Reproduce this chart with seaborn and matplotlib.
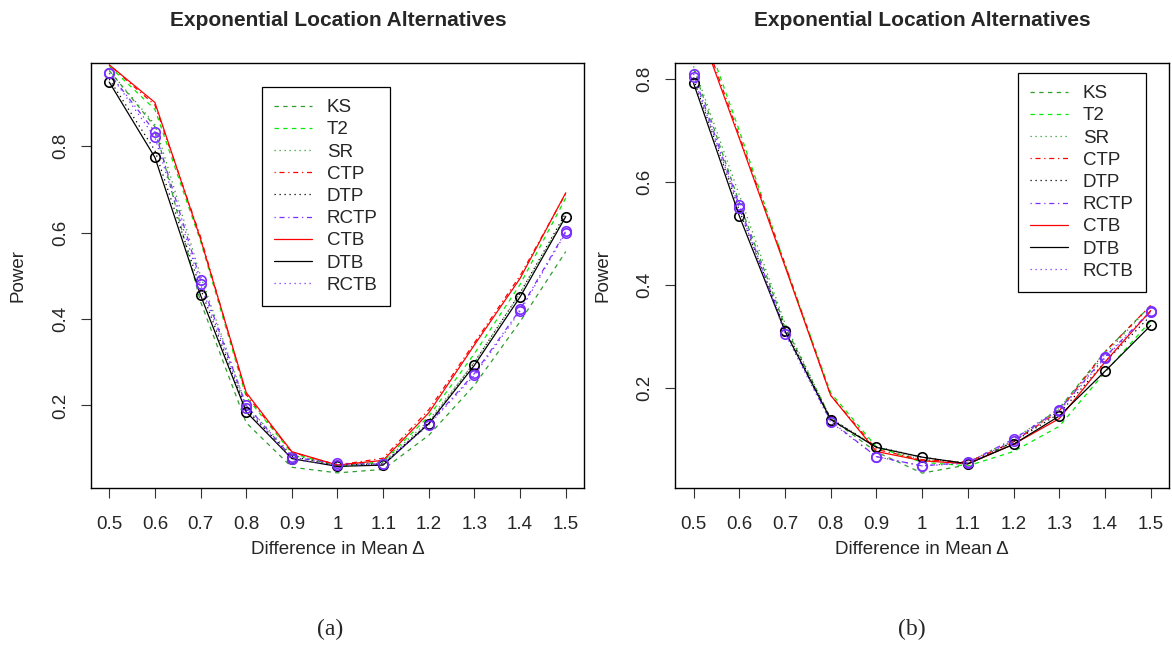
import numpy as np
import pandas as pd
import matplotlib
matplotlib.use("Agg")
import matplotlib.pyplot as plt
import seaborn as sns
from matplotlib.lines import Line2D

delta = [0.5, 0.6, 0.7, 0.8, 0.9, 1.0, 1.1, 1.2, 1.3, 1.4, 1.5]
xtick_labels = ["0.5", "0.6", "0.7", "0.8", "0.9", "1", "1.1", "1.2", "1.3", "1.4", "1.5"]
methods = ["KS", "T2", "SR", "CTP", "DTP", "RCTP", "CTB", "DTB", "RCTB"]

# Panel (a)
a_KS   = [0.975, 0.845, 0.440, 0.160, 0.057, 0.044, 0.052, 0.131, 0.247, 0.394, 0.556]
a_T2   = [0.985, 0.885, 0.580, 0.220, 0.090, 0.058, 0.070, 0.175, 0.320, 0.480, 0.680]
a_SR   = [0.975, 0.850, 0.500, 0.200, 0.085, 0.062, 0.068, 0.165, 0.300, 0.460, 0.640]
a_CTP  = [0.988, 0.895, 0.590, 0.225, 0.092, 0.062, 0.078, 0.190, 0.345, 0.500, 0.690]
a_DTP  = [0.955, 0.790, 0.470, 0.190, 0.082, 0.062, 0.065, 0.160, 0.300, 0.460, 0.645]
a_RCTP = [0.969, 0.833, 0.490, 0.200, 0.080, 0.066, 0.064, 0.157, 0.274, 0.422, 0.603]
a_CTB  = [0.988, 0.901, 0.585, 0.230, 0.093, 0.062, 0.073, 0.183, 0.340, 0.494, 0.692]
a_DTB  = [0.948, 0.774, 0.455, 0.185, 0.077, 0.059, 0.062, 0.158, 0.293, 0.451, 0.637]
a_RCTB = [0.969, 0.820, 0.480, 0.195, 0.075, 0.062, 0.064, 0.155, 0.270, 0.418, 0.600]

# Panel (b)
b_KS   = [0.820, 0.560, 0.320, 0.140, 0.075, 0.034, 0.050, 0.095, 0.160, 0.270, 0.360]
b_T2   = [0.950, 0.700, 0.440, 0.190, 0.085, 0.055, 0.048, 0.076, 0.125, 0.230, 0.330]
b_SR   = [0.825, 0.575, 0.325, 0.140, 0.085, 0.060, 0.055, 0.100, 0.160, 0.265, 0.360]
b_CTP  = [0.940, 0.690, 0.440, 0.185, 0.080, 0.060, 0.055, 0.095, 0.155, 0.270, 0.360]
b_DTP  = [0.800, 0.545, 0.315, 0.140, 0.085, 0.065, 0.052, 0.095, 0.150, 0.250, 0.340]
b_RCTP = [0.810, 0.555, 0.310, 0.135, 0.066, 0.048, 0.055, 0.100, 0.157, 0.260, 0.349]
b_CTB  = [0.930, 0.685, 0.436, 0.185, 0.076, 0.058, 0.052, 0.090, 0.140, 0.250, 0.350]
b_DTB  = [0.792, 0.534, 0.310, 0.138, 0.084, 0.065, 0.052, 0.090, 0.145, 0.232, 0.321]
b_RCTB = [0.804, 0.550, 0.305, 0.133, 0.066, 0.048, 0.053, 0.097, 0.155, 0.258, 0.347]

panel_a = [a_KS, a_T2, a_SR, a_CTP, a_DTP, a_RCTP, a_CTB, a_DTB, a_RCTB]
panel_b = [b_KS, b_T2, b_SR, b_CTP, b_DTP, b_RCTP, b_CTB, b_DTB, b_RCTB]

PURPLE = "#7B2FFF"
DASH = (0, (3.5, 3.5))
DOT = (0, (1, 3))
DOTDASH = (0, (1, 3, 4, 3))
styles = {
    "KS":   dict(color="#2E9E2E", ls=DASH, marker=None),
    "T2":   dict(color="#00EE00", ls=DASH, marker=None),
    "SR":   dict(color="#2E9E2E", ls=DOT, marker=None),
    "CTP":  dict(color="#FF0000", ls=DOTDASH, marker=None),
    "DTP":  dict(color="#000000", ls=DOT, marker=None),
    "RCTP": dict(color=PURPLE, ls=DOTDASH, marker="o"),
    "CTB":  dict(color="#FF0000", ls="-", marker=None),
    "DTB":  dict(color="#000000", ls="-", marker="o"),
    "RCTB": dict(color=PURPLE, ls=DOT, marker="o"),
}

sns.set_style("white")
plt.rcParams["font.family"] = ["Liberation Sans", "DejaVu Sans"]

W, H = 1172, 649
fig = plt.figure(figsize=(W / 100, H / 100), dpi=100)

def fx(px):
    return px / W

def fy(py):
    return 1 - py / H

FS = 13.5
top_px, bot_px = 62.7, 488
axA = fig.add_axes([fx(91), fy(bot_px), fx(584 - 91), (bot_px - top_px) / H])
axB = fig.add_axes([fx(675.3), fy(bot_px), fx(1169 - 675.3), (bot_px - top_px) / H])

def draw(ax, series, ylim, yticks, legend_anchor):
    handles = []
    for name, vals in zip(methods, series):
        st = styles[name]
        df = pd.DataFrame({"delta": delta, "power": vals})
        kw = dict(lw=0.9, linestyle=st["ls"], color=st["color"])
        if st["marker"]:
            kw.update(marker="o", markersize=6.8, markerfacecolor="none",
                      markeredgecolor=st["color"], markeredgewidth=1.2)
        sns.lineplot(data=df, x="delta", y="power", ax=ax, legend=False, **kw)
        handles.append(Line2D([0], [0], color=st["color"], lw=0.9, linestyle=st["ls"]))
    ax.set_xlim(0.46, 1.54)
    ax.set_ylim(*ylim)
    ax.set_xticks(delta)
    ax.set_xticklabels(xtick_labels)
    ax.set_yticks(yticks)
    ax.set_yticklabels([f"{v:.1f}" for v in yticks], rotation=90, va="center")
    ax.tick_params(axis="both", which="both", direction="out", length=7, width=0.8,
                   color="#333333", labelsize=FS, bottom=True, left=True)
    ax.tick_params(axis="x", pad=13)
    ax.tick_params(axis="y", pad=9)
    for s in ax.spines.values():
        s.set_visible(True)
        s.set_color("black")
        s.set_linewidth(1.0)
    ax.set_xlabel("Difference in Mean \u0394", fontsize=FS, labelpad=6)
    ax.set_ylabel("Power", fontsize=FS, labelpad=18)
    leg = ax.legend(handles, methods, loc="upper left", bbox_to_anchor=legend_anchor,
                    frameon=True, fancybox=False, framealpha=1, edgecolor="black",
                    fontsize=FS, handlelength=2.0, handletextpad=0.8,
                    labelspacing=0.27, borderpad=0.65, borderaxespad=0)
    leg.get_frame().set_linewidth(0.9)

draw(axA, panel_a, (0.009, 0.993), [0.2, 0.4, 0.6, 0.8], (0.347, 0.943))
draw(axB, panel_b, (0.005, 0.832), [0.2, 0.4, 0.6, 0.8], (0.694, 0.976))

fig.text(fx(338), fy(20), "Exponential Location Alternatives", ha="center", va="center",
         fontsize=15, fontweight="bold")
fig.text(fx(922), fy(20), "Exponential Location Alternatives", ha="center", va="center",
         fontsize=15, fontweight="bold")
fig.text(fx(330), fy(629), "(a)", ha="center", va="center", fontsize=17,
         family=["Liberation Serif", "DejaVu Serif"])
fig.text(fx(912), fy(629), "(b)", ha="center", va="center", fontsize=17,
         family=["Liberation Serif", "DejaVu Serif"])

fig.savefig("out.png", dpi=100)
